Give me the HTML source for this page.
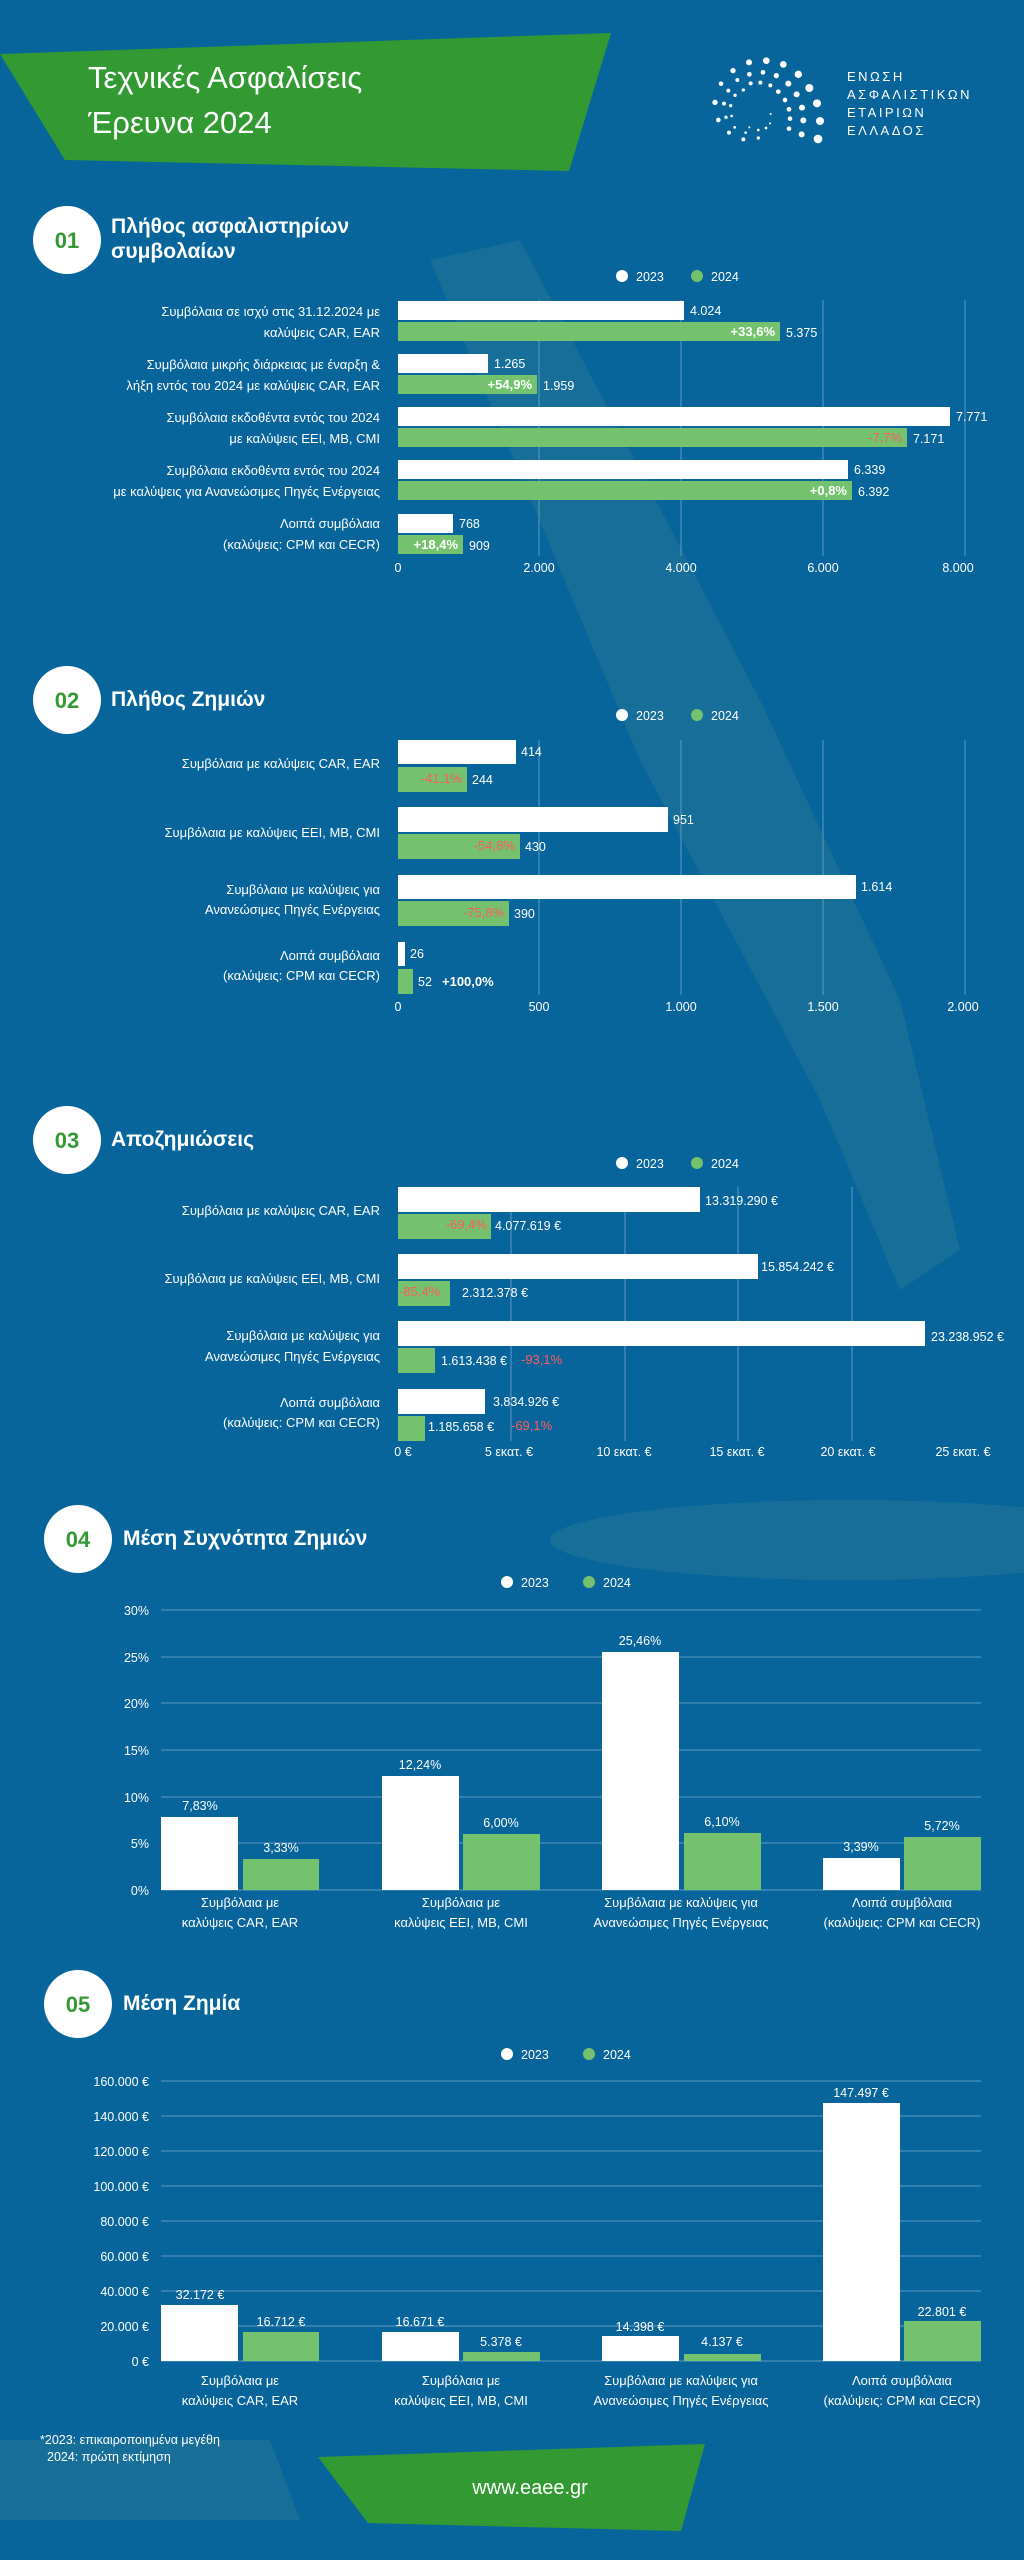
<!DOCTYPE html>
<html><head><meta charset="utf-8"><style>
html,body{margin:0;padding:0;background:#07659b;}
svg{display:block;}
text{font-family:"Liberation Sans Narrow","Liberation Sans",sans-serif;fill:#fff;}
.lbl{font-size:13px;text-anchor:end;}
.val{font-size:12.5px;}
.pw{font-size:13px;font-weight:bold;}
.pr{font-size:13px;fill:#ff5c5c;}
.ax{font-size:12.5px;text-anchor:middle;}
.ay{font-size:12.5px;text-anchor:end;}
.ttl{font-size:21px;font-weight:bold;}
.num{font-size:22px;font-weight:bold;fill:#339933;text-anchor:middle;}
.grid{stroke:#5f9cc4;stroke-width:1;}
.wb{fill:#fff;}
.gb{fill:#74c26e;}
.cat{font-size:13px;text-anchor:middle;}
</style></head><body>
<svg width="1024" height="2560" viewBox="0 0 1024 2560" xmlns="http://www.w3.org/2000/svg">
<rect width="1024" height="2560" fill="#07659b"/>
<!-- faint background shapes -->
<g fill="#2a7a96" opacity="0.45">
<polygon points="430,260 520,240 760,700 900,1000 960,1250 900,1290 820,1100 640,760"/>
<ellipse cx="850" cy="1540" rx="300" ry="40"/>
<polygon points="0,2440 270,2440 300,2520 0,2520"/>
</g>
<!-- header -->
<polygon points="0,54 611,33 569,171 65,160" fill="#339933"/>
<text x="88" y="88" style="font-size:31px">Τεχνικές Ασφαλίσεις</text>
<text x="88" y="133" style="font-size:31px">Έρευνα 2024</text>
<g transform="translate(690,40) scale(0.3333)" fill="#fff">
<circle cx="177" cy="67" r="9"/><circle cx="229" cy="62" r="10"/><circle cx="280" cy="73" r="10"/><circle cx="325" cy="103" r="11"/><circle cx="358" cy="144" r="12"/><circle cx="381" cy="190" r="12"/><circle cx="390" cy="243" r="12"/><circle cx="384" cy="297" r="13"/>
<circle cx="129" cy="92" r="8"/><circle cx="178" cy="103" r="7"/><circle cx="219" cy="97" r="7"/><circle cx="259" cy="107" r="8"/><circle cx="295" cy="131" r="9"/><circle cx="320" cy="163" r="9"/><circle cx="336" cy="203" r="9"/><circle cx="340" cy="241" r="9"/><circle cx="335" cy="283" r="9"/>
<circle cx="93" cy="131" r="7"/><circle cx="142" cy="120" r="6"/><circle cx="182" cy="130" r="6"/><circle cx="211" cy="128" r="6"/><circle cx="241" cy="136" r="6"/><circle cx="265" cy="155" r="7"/><circle cx="285" cy="180" r="7"/><circle cx="297" cy="208" r="7"/><circle cx="300" cy="236" r="7"/><circle cx="297" cy="266" r="7"/>
<circle cx="75" cy="187" r="8"/><circle cx="102" cy="191" r="6"/><circle cx="122" cy="197" r="5"/><circle cx="85" cy="240" r="7"/><circle cx="108" cy="232" r="5"/><circle cx="125" cy="228" r="4"/><circle cx="117" cy="278" r="6"/><circle cx="134" cy="262" r="4"/><circle cx="160" cy="298" r="6"/><circle cx="167" cy="278" r="4"/><circle cx="178" cy="262" r="3"/><circle cx="205" cy="294" r="5"/><circle cx="205" cy="270" r="4"/><circle cx="228" cy="264" r="4"/><circle cx="240" cy="250" r="3"/><circle cx="242" cy="222" r="3"/><circle cx="115" cy="152" r="6"/><circle cx="135" cy="166" r="5"/><circle cx="160" cy="150" r="5"/>
</g>
<g style="font-size:13px;letter-spacing:2.5px">
<text x="847" y="81" style="font-family:'Liberation Sans',sans-serif">ΕΝΩΣΗ</text>
<text x="847" y="99" style="font-family:'Liberation Sans',sans-serif">ΑΣΦΑΛΙΣΤΙΚΩΝ</text>
<text x="847" y="117" style="font-family:'Liberation Sans',sans-serif">ΕΤΑΙΡΙΩΝ</text>
<text x="847" y="135" style="font-family:'Liberation Sans',sans-serif">ΕΛΛΑΔΟΣ</text>
</g>

<!-- ===== 01 ===== -->
<ellipse cx="67" cy="240" rx="34" ry="34" fill="#fff"/>
<text x="67" y="248" class="num">01</text>
<text x="111" y="233" class="ttl">Πλήθος ασφαλιστηρίων</text>
<text x="111" y="258" class="ttl">συμβολαίων</text>
<circle cx="622" cy="276" r="6" fill="#fff"/><text x="636" y="281" class="val">2023</text>
<circle cx="697" cy="276" r="6" fill="#74c26e"/><text x="711" y="281" class="val">2024</text>
<g class="grid"><line x1="539" y1="300" x2="539" y2="556"/><line x1="681" y1="300" x2="681" y2="556"/><line x1="823" y1="300" x2="823" y2="556"/><line x1="965" y1="300" x2="965" y2="556"/></g>
<rect x="398" y="301" width="286" height="19" class="wb"/><rect x="398" y="322" width="382" height="19" class="gb"/>
<rect x="398" y="354" width="90" height="19" class="wb"/><rect x="398" y="375" width="139" height="19" class="gb"/>
<rect x="398" y="407" width="552" height="19" class="wb"/><rect x="398" y="428" width="509" height="19" class="gb"/>
<rect x="398" y="460" width="450" height="19" class="wb"/><rect x="398" y="481" width="454" height="19" class="gb"/>
<rect x="398" y="514" width="55" height="19" class="wb"/><rect x="398" y="535" width="65" height="19" class="gb"/>
<text x="690" y="315" class="val">4.024</text><text x="786" y="337" class="val">5.375</text><text x="775" y="336" class="pw" text-anchor="end">+33,6%</text>
<text x="494" y="368" class="val">1.265</text><text x="543" y="390" class="val">1.959</text><text x="532" y="389" class="pw" text-anchor="end">+54,9%</text>
<text x="956" y="421" class="val">7.771</text><text x="913" y="443" class="val">7.171</text><text x="902" y="442" class="pr" text-anchor="end">-7,7%</text>
<text x="854" y="474" class="val">6.339</text><text x="858" y="496" class="val">6.392</text><text x="847" y="495" class="pw" text-anchor="end">+0,8%</text>
<text x="459" y="528" class="val">768</text><text x="469" y="550" class="val">909</text><text x="458" y="549" class="pw" text-anchor="end">+18,4%</text>
<text x="380" y="316" class="lbl">Συμβόλαια σε ισχύ στις 31.12.2024 με</text><text x="380" y="337" class="lbl">καλύψεις CAR, EAR</text>
<text x="380" y="369" class="lbl">Συμβόλαια μικρής διάρκειας με έναρξη &amp;</text><text x="380" y="390" class="lbl">λήξη εντός του 2024 με καλύψεις CAR, EAR</text>
<text x="380" y="422" class="lbl">Συμβόλαια εκδοθέντα εντός του 2024</text><text x="380" y="443" class="lbl">με καλύψεις EEI, MB, CMI</text>
<text x="380" y="475" class="lbl">Συμβόλαια εκδοθέντα εντός του 2024</text><text x="380" y="496" class="lbl">με καλύψεις για Ανανεώσιμες Πηγές Ενέργειας</text>
<text x="380" y="528" class="lbl">Λοιπά συμβόλαια</text><text x="380" y="549" class="lbl">(καλύψεις: CPM και CECR)</text>
<text x="398" y="572" class="ax">0</text><text x="539" y="572" class="ax">2.000</text><text x="681" y="572" class="ax">4.000</text><text x="823" y="572" class="ax">6.000</text><text x="958" y="572" class="ax">8.000</text>

<!-- ===== 02 ===== -->
<ellipse cx="67" cy="700" rx="34" ry="34" fill="#fff"/>
<text x="67" y="708" class="num">02</text>
<text x="111" y="706" class="ttl">Πλήθος Ζημιών</text>
<circle cx="622" cy="715" r="6" fill="#fff"/><text x="636" y="720" class="val">2023</text>
<circle cx="697" cy="715" r="6" fill="#74c26e"/><text x="711" y="720" class="val">2024</text>
<g class="grid"><line x1="539" y1="740" x2="539" y2="995"/><line x1="681" y1="740" x2="681" y2="995"/><line x1="823" y1="740" x2="823" y2="995"/><line x1="965" y1="740" x2="965" y2="995"/></g>
<rect x="398" y="740" width="118" height="24" class="wb"/><rect x="398" y="767" width="69" height="25" class="gb"/>
<rect x="398" y="807" width="270" height="25" class="wb"/><rect x="398" y="834" width="122" height="25" class="gb"/>
<rect x="398" y="875" width="458" height="24" class="wb"/><rect x="398" y="901" width="111" height="25" class="gb"/>
<rect x="398" y="942" width="7" height="24" class="wb"/><rect x="398" y="969" width="15" height="25" class="gb"/>
<text x="521" y="756" class="val">414</text><text x="472" y="784" class="val">244</text><text x="462" y="783" class="pr" text-anchor="end">-41,1%</text>
<text x="673" y="824" class="val">951</text><text x="525" y="851" class="val">430</text><text x="515" y="850" class="pr" text-anchor="end">-54,8%</text>
<text x="861" y="891" class="val">1.614</text><text x="514" y="918" class="val">390</text><text x="504" y="917" class="pr" text-anchor="end">-75,8%</text>
<text x="410" y="958" class="val">26</text><text x="418" y="986" class="val">52</text><text x="442" y="986" class="pw">+100,0%</text>
<text x="380" y="768" class="lbl">Συμβόλαια με καλύψεις CAR, EAR</text>
<text x="380" y="837" class="lbl">Συμβόλαια με καλύψεις EEI, MB, CMI</text>
<text x="380" y="894" class="lbl">Συμβόλαια με καλύψεις για</text><text x="380" y="914" class="lbl">Ανανεώσιμες Πηγές Ενέργειας</text>
<text x="380" y="960" class="lbl">Λοιπά συμβόλαια</text><text x="380" y="980" class="lbl">(καλύψεις: CPM και CECR)</text>
<text x="398" y="1011" class="ax">0</text><text x="539" y="1011" class="ax">500</text><text x="681" y="1011" class="ax">1.000</text><text x="823" y="1011" class="ax">1.500</text><text x="963" y="1011" class="ax">2.000</text>

<!-- ===== 03 ===== -->
<ellipse cx="67" cy="1140" rx="34" ry="34" fill="#fff"/>
<text x="67" y="1148" class="num">03</text>
<text x="111" y="1146" class="ttl">Αποζημιώσεις</text>
<circle cx="622" cy="1163" r="6" fill="#fff"/><text x="636" y="1168" class="val">2023</text>
<circle cx="697" cy="1163" r="6" fill="#74c26e"/><text x="711" y="1168" class="val">2024</text>
<g class="grid"><line x1="511" y1="1187" x2="511" y2="1441"/><line x1="625" y1="1187" x2="625" y2="1441"/><line x1="738" y1="1187" x2="738" y2="1441"/><line x1="852" y1="1187" x2="852" y2="1441"/></g>
<rect x="398" y="1187" width="302" height="25" class="wb"/><rect x="398" y="1214" width="93" height="25" class="gb"/>
<rect x="398" y="1254" width="360" height="25" class="wb"/><rect x="398" y="1281" width="52" height="25" class="gb"/>
<rect x="398" y="1321" width="527" height="25" class="wb"/><rect x="398" y="1348" width="37" height="25" class="gb"/>
<rect x="398" y="1389" width="87" height="25" class="wb"/><rect x="398" y="1416" width="27" height="25" class="gb"/>
<text x="705" y="1205" class="val">13.319.290 €</text><text x="495" y="1230" class="val">4.077.619 €</text><text x="487" y="1229" class="pr" text-anchor="end">-69,4%</text>
<text x="761" y="1271" class="val">15.854.242 €</text><text x="462" y="1297" class="val">2.312.378 €</text><text x="399" y="1296" class="pr">-85,4%</text>
<text x="931" y="1341" class="val">23.238.952 €</text><text x="441" y="1365" class="val">1.613.438 €</text><text x="521" y="1364" class="pr">-93,1%</text>
<text x="493" y="1406" class="val">3.834.926 €</text><text x="428" y="1431" class="val">1.185.658 €</text><text x="511" y="1430" class="pr">-69,1%</text>
<text x="380" y="1215" class="lbl">Συμβόλαια με καλύψεις CAR, EAR</text>
<text x="380" y="1283" class="lbl">Συμβόλαια με καλύψεις EEI, MB, CMI</text>
<text x="380" y="1340" class="lbl">Συμβόλαια με καλύψεις για</text><text x="380" y="1361" class="lbl">Ανανεώσιμες Πηγές Ενέργειας</text>
<text x="380" y="1407" class="lbl">Λοιπά συμβόλαια</text><text x="380" y="1427" class="lbl">(καλύψεις: CPM και CECR)</text>
<text x="403" y="1456" class="ax">0 €</text><text x="509" y="1456" class="ax">5 εκατ. €</text><text x="624" y="1456" class="ax">10 εκατ. €</text><text x="737" y="1456" class="ax">15 εκατ. €</text><text x="848" y="1456" class="ax">20 εκατ. €</text><text x="963" y="1456" class="ax">25 εκατ. €</text>

<!-- ===== 04 ===== -->
<ellipse cx="78" cy="1539" rx="34" ry="34" fill="#fff"/>
<text x="78" y="1547" class="num">04</text>
<text x="123" y="1545" class="ttl">Μέση Συχνότητα Ζημιών</text>
<circle cx="507" cy="1582" r="6" fill="#fff"/><text x="521" y="1587" class="val">2023</text>
<circle cx="589" cy="1582" r="6" fill="#74c26e"/><text x="603" y="1587" class="val">2024</text>
<g class="grid"><line x1="161" y1="1610" x2="981" y2="1610"/><line x1="161" y1="1657" x2="981" y2="1657"/><line x1="161" y1="1703" x2="981" y2="1703"/><line x1="161" y1="1750" x2="981" y2="1750"/><line x1="161" y1="1797" x2="981" y2="1797"/><line x1="161" y1="1843" x2="981" y2="1843"/><line x1="161" y1="1890" x2="981" y2="1890"/></g>
<text x="149" y="1615" class="ay">30%</text><text x="149" y="1662" class="ay">25%</text><text x="149" y="1708" class="ay">20%</text><text x="149" y="1755" class="ay">15%</text><text x="149" y="1802" class="ay">10%</text><text x="149" y="1848" class="ay">5%</text><text x="149" y="1895" class="ay">0%</text>
<rect x="161" y="1817" width="77" height="73" class="wb"/><rect x="243" y="1859" width="76" height="31" class="gb"/>
<rect x="382" y="1776" width="77" height="114" class="wb"/><rect x="463" y="1834" width="77" height="56" class="gb"/>
<rect x="602" y="1652" width="77" height="238" class="wb"/><rect x="684" y="1833" width="77" height="57" class="gb"/>
<rect x="823" y="1858" width="77" height="32" class="wb"/><rect x="904" y="1837" width="77" height="53" class="gb"/>
<g class="ax">
<text x="200" y="1810" class="ax">7,83%</text><text x="281" y="1852" class="ax">3,33%</text>
<text x="420" y="1769" class="ax">12,24%</text><text x="501" y="1827" class="ax">6,00%</text>
<text x="640" y="1645" class="ax">25,46%</text><text x="722" y="1826" class="ax">6,10%</text>
<text x="861" y="1851" class="ax">3,39%</text><text x="942" y="1830" class="ax">5,72%</text>
</g>
<text x="240" y="1907" class="cat">Συμβόλαια με</text><text x="240" y="1927" class="cat">καλύψεις CAR, EAR</text>
<text x="461" y="1907" class="cat">Συμβόλαια με</text><text x="461" y="1927" class="cat">καλύψεις EEI, MB, CMI</text>
<text x="681" y="1907" class="cat">Συμβόλαια με καλύψεις για</text><text x="681" y="1927" class="cat">Ανανεώσιμες Πηγές Ενέργειας</text>
<text x="902" y="1907" class="cat">Λοιπά συμβόλαια</text><text x="902" y="1927" class="cat">(καλύψεις: CPM και CECR)</text>

<!-- ===== 05 ===== -->
<ellipse cx="78" cy="2004" rx="34" ry="34" fill="#fff"/>
<text x="78" y="2012" class="num">05</text>
<text x="123" y="2010" class="ttl">Μέση Ζημία</text>
<circle cx="507" cy="2054" r="6" fill="#fff"/><text x="521" y="2059" class="val">2023</text>
<circle cx="589" cy="2054" r="6" fill="#74c26e"/><text x="603" y="2059" class="val">2024</text>
<g class="grid"><line x1="161" y1="2081" x2="981" y2="2081"/><line x1="161" y1="2116" x2="981" y2="2116"/><line x1="161" y1="2151" x2="981" y2="2151"/><line x1="161" y1="2186" x2="981" y2="2186"/><line x1="161" y1="2221" x2="981" y2="2221"/><line x1="161" y1="2256" x2="981" y2="2256"/><line x1="161" y1="2291" x2="981" y2="2291"/><line x1="161" y1="2326" x2="981" y2="2326"/><line x1="161" y1="2361" x2="981" y2="2361"/></g>
<text x="149" y="2086" class="ay">160.000 €</text><text x="149" y="2121" class="ay">140.000 €</text><text x="149" y="2156" class="ay">120.000 €</text><text x="149" y="2191" class="ay">100.000 €</text><text x="149" y="2226" class="ay">80.000 €</text><text x="149" y="2261" class="ay">60.000 €</text><text x="149" y="2296" class="ay">40.000 €</text><text x="149" y="2331" class="ay">20.000 €</text><text x="149" y="2366" class="ay">0 €</text>
<rect x="161" y="2305" width="77" height="56" class="wb"/><rect x="243" y="2332" width="76" height="29" class="gb"/>
<rect x="382" y="2332" width="77" height="29" class="wb"/><rect x="463" y="2352" width="77" height="9" class="gb"/>
<rect x="602" y="2336" width="77" height="25" class="wb"/><rect x="684" y="2354" width="77" height="7" class="gb"/>
<rect x="823" y="2103" width="77" height="258" class="wb"/><rect x="904" y="2321" width="77" height="40" class="gb"/>
<text x="200" y="2299" class="ax">32.172 €</text><text x="281" y="2326" class="ax">16.712 €</text>
<text x="420" y="2326" class="ax">16.671 €</text><text x="501" y="2346" class="ax">5.378 €</text>
<text x="640" y="2331" class="ax">14.398 €</text><text x="722" y="2346" class="ax">4.137 €</text>
<text x="861" y="2097" class="ax">147.497 €</text><text x="942" y="2316" class="ax">22.801 €</text>
<text x="240" y="2385" class="cat">Συμβόλαια με</text><text x="240" y="2405" class="cat">καλύψεις CAR, EAR</text>
<text x="461" y="2385" class="cat">Συμβόλαια με</text><text x="461" y="2405" class="cat">καλύψεις EEI, MB, CMI</text>
<text x="681" y="2385" class="cat">Συμβόλαια με καλύψεις για</text><text x="681" y="2405" class="cat">Ανανεώσιμες Πηγές Ενέργειας</text>
<text x="902" y="2385" class="cat">Λοιπά συμβόλαια</text><text x="902" y="2405" class="cat">(καλύψεις: CPM και CECR)</text>

<text x="40" y="2444" style="font-size:12.5px">*2023: επικαιροποιημένα μεγέθη</text>
<text x="47" y="2461" style="font-size:12.5px">2024: πρώτη εκτίμηση</text>
<polygon points="318,2457 705,2444 681,2531 368,2523" fill="#339933"/>
<text x="530" y="2494" style="font-size:20px" text-anchor="middle">www.eaee.gr</text>
</svg>
</body></html>
